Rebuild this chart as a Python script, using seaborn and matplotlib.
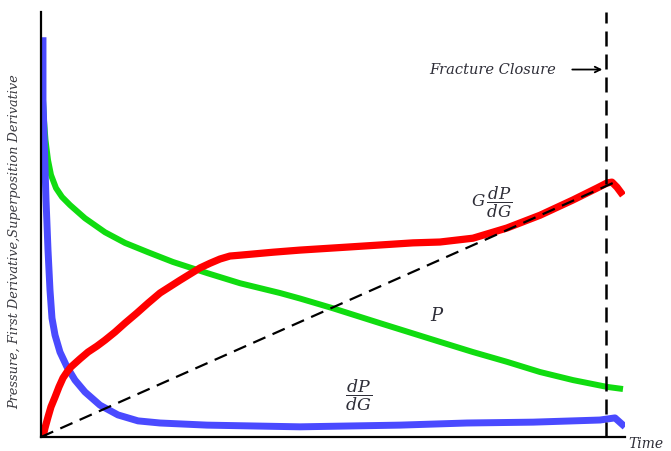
import numpy as np
import pandas as pd
import matplotlib
matplotlib.use("Agg")
import matplotlib.pyplot as plt
import seaborn as sns

# Pressure decline curve (P)
p_time = [0.34, 0.34, 0.51, 0.77, 1.20, 1.71, 2.57, 3.60, 4.97, 7.53, 10.96,
          14.38, 18.32, 22.60, 28.42, 34.08, 40.92, 44.35, 50.0, 58.05, 68.32,
          73.97, 79.79, 85.45, 91.10, 96.92, 99.66]
p_value = [89.4, 79.3, 74.6, 69.9, 65.2, 61.7, 58.6, 56.5, 54.6, 51.5, 48.2,
           45.7, 43.5, 41.2, 38.6, 36.2, 33.9, 32.6, 30.3, 26.8, 22.4,
           20.0, 17.7, 15.3, 13.4, 11.8, 11.3]

# First derivative (dP/dG)
d_time = [0.34, 0.34, 0.60, 0.86, 1.20, 1.54, 1.88, 2.40, 3.25, 4.45, 5.82,
          7.53, 10.10, 13.18, 16.61, 20.38, 28.42, 44.35, 61.47, 72.95, 84.25,
          95.72, 98.29, 100.0]
d_value = [94.1, 79.3, 67.5, 55.8, 44.0, 34.6, 28.0, 24.0, 20.0, 16.5, 13.4,
           10.6, 7.5, 5.2, 3.8, 3.3, 2.8, 2.4, 2.8, 3.3, 3.5,
           4.0, 4.5, 2.4]

# Superposition derivative (G dP/dG)
g_time = [0.34, 0.68, 1.20, 1.71, 2.40, 3.08, 3.77, 4.45, 5.14, 6.68, 8.05,
          9.59, 10.96, 12.67, 14.38, 16.44, 18.32, 20.38, 23.80, 27.23, 28.94,
          30.65, 32.36, 34.08, 39.73, 44.35, 52.40, 63.70, 68.32, 73.97, 79.79,
          85.45, 91.10, 95.21, 96.92, 97.77, 98.63, 99.66]
g_value = [0.0, 2.1, 4.7, 7.1, 9.4, 11.8, 13.9, 15.3, 16.5, 18.4, 20.0,
           21.4, 22.8, 24.7, 26.8, 29.2, 31.5, 33.9, 36.9, 39.8, 40.9,
           41.9, 42.6, 42.8, 43.5, 44.0, 44.7, 45.7, 45.9, 46.8, 49.2,
           52.2, 55.8, 58.6, 59.8, 60.0, 58.8, 56.9]

# Straight line through the origin and the closure point
line_time = [0.0, 99.1]
line_value = [0.0, 60.5]

closure_time = 96.75

sns.set_style("white")
plt.rcParams["font.family"] = ["DejaVu Serif"]
plt.rcParams["mathtext.fontset"] = "dejavuserif"

fig = plt.figure(figsize=(6.71, 4.51), dpi=100)
ax = fig.add_axes([0.0611, 0.031, 0.8703, 0.942])

green = "#10dc10"
blue = "#4a4aff"
red = "#ff0000"

sns.lineplot(x=p_time, y=p_value, ax=ax, color=green, linewidth=4.3,
             sort=False, estimator=None)
sns.lineplot(x=d_time, y=d_value, ax=ax, color=blue, linewidth=5.0,
             sort=False, estimator=None)
sns.lineplot(x=g_time, y=g_value, ax=ax, color=red, linewidth=5.2,
             sort=False, estimator=None)
sns.lineplot(x=line_time, y=line_value, ax=ax, color="black", linewidth=1.6,
             sort=False, estimator=None)
ax.lines[-1].set_dashes((6, 3.5))
for ln in ax.lines[:3]:
    ln.set_solid_capstyle("butt")
    ln.set_solid_joinstyle("round")

ax.axvline(closure_time, color="black", linewidth=1.8, dashes=(6, 3.2))

ax.set_xlim(0, 100)
ax.set_ylim(0, 100)
ax.set_xticks([])
ax.set_yticks([])
for side in ("top", "right"):
    ax.spines[side].set_visible(False)
for side in ("left", "bottom"):
    ax.spines[side].set_color("black")
    ax.spines[side].set_linewidth(1.6)

txt_color = "#2e2e38"
fig.text(15 / 671, 1 - 241.5 / 451,
         "Pressure, First Derivative,Superposition Derivative",
         fontsize=9.3, style="italic", color="#3a3a40", rotation=90,
         ha="center", va="center")
ax.text(100.6, -1.6, "Time", fontsize=10, style="italic", color=txt_color,
        ha="left", va="center", clip_on=False)

ax.text(66.5, 86.5, "Fracture Closure", fontsize=10.5, style="italic",
        color=txt_color, ha="left", va="center")
ax.annotate("", xy=(96.6, 86.5), xytext=(90.5, 86.5),
            arrowprops=dict(arrowstyle="->", color="black", lw=1.3))

ax.text(77.2, 55.3, r"$G\,\dfrac{dP}{dG}$", fontsize=12, color=txt_color,
        ha="center", va="center")
ax.text(67.8, 28.5, r"$P$", fontsize=13, color=txt_color,
        ha="center", va="center")
ax.text(54.3, 9.9, r"$\dfrac{dP}{dG}$", fontsize=12.5, color=txt_color,
        ha="center", va="center")

fig.savefig("out.png", dpi=100)
